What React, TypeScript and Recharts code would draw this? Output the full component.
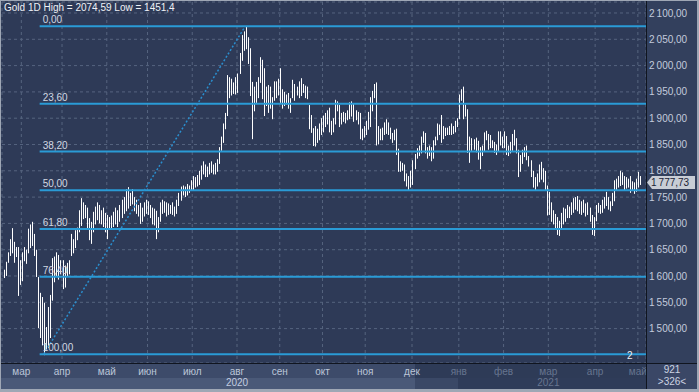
import React from 'react';
import { ComposedChart, Bar, XAxis, YAxis, CartesianGrid, ReferenceLine } from 'recharts';

// daily bars, index 0 = 18 Feb 2020 ... last = 4 May 2021
const highs = [
  1612, 1627, 1645, 1670, 1691, 1665, 1655, 1655, 1630,
  // мар
  1645, 1655, 1650, 1690, 1698, 1703, 1680, 1650, 1598, 1568, 1560, 1549, 1503, 1541, 1564, 1634, 1637, 1645, 1640, 1630,
  // апр
  1630, 1620, 1625, 1630, 1680, 1670, 1687, 1692, 1725, 1748, 1740, 1735, 1730, 1710, 1703, 1722, 1732, 1740, 1735, 1725, 1730, 1720,
  // май
  1716, 1712, 1715, 1722, 1730, 1725, 1735, 1745, 1750, 1765, 1769, 1758, 1765, 1750, 1745, 1735, 1739, 1730, 1740, 1745,
  // июн
  1742, 1735, 1730, 1728, 1724, 1712, 1740, 1745, 1742, 1740, 1738, 1735, 1740, 1732, 1745, 1758, 1770, 1772, 1770, 1775, 1772, 1782,
  // июл
  1790, 1788, 1792, 1800, 1810, 1818, 1812, 1808, 1815, 1818, 1812, 1815, 1822, 1845, 1865, 1890, 1910, 1982, 1978, 1975, 1968, 1978,
  // авг
  1985, 2024, 2058, 2065, 2074.59, 2054, 2033, 1969, 1960, 1969, 1978, 2016, 2011, 1995, 1960, 1963, 1960, 1940, 1970, 1970, 1975,
  // сен
  1995, 1955, 1950, 1945, 1948, 1938, 1973, 1965, 1960, 1970, 1976, 1965, 1962, 1960, 1925, 1906, 1881, 1885, 1880, 1890, 1900,
  // окт
  1905, 1910, 1915, 1920, 1895, 1900, 1935, 1932, 1925, 1910, 1912, 1910, 1915, 1930, 1932, 1928, 1915, 1912, 1910, 1880, 1885,
  // ноя
  1895, 1912, 1940, 1952, 1965, 1968, 1885, 1880, 1882, 1892, 1898, 1892, 1882, 1872, 1878, 1880, 1842, 1818, 1815, 1812, 1795, 1790, 1800,
  // дек
  1820, 1832, 1843, 1848, 1865, 1875, 1872, 1845, 1848, 1845, 1858, 1865, 1890, 1888, 1906, 1885, 1882, 1882, 1885, 1890, 1885, 1895, 1900,
  // янв 2021
  1945, 1955, 1960, 1926, 1917, 1865, 1862, 1860, 1863, 1857, 1845, 1848, 1873, 1876, 1870, 1868, 1858, 1855, 1850, 1875, 1875, 1865,
  // фев
  1875, 1866, 1848, 1855, 1870, 1878, 1862, 1840, 1830, 1840, 1845, 1848, 1828, 1820, 1800, 1788, 1795, 1812, 1817, 1805, 1800, 1772,
  // мар
  1760, 1740, 1725, 1718, 1712, 1705, 1720, 1730, 1728, 1735, 1732, 1740, 1748, 1750, 1752, 1745, 1742, 1745, 1738, 1740, 1730, 1716, 1712,
  // апр
  1735, 1739, 1735, 1745, 1750, 1760, 1750, 1742, 1758, 1782, 1785, 1790, 1800, 1797, 1790, 1788, 1785, 1790, 1780, 1778, 1785,
  // май
  1798, 1790,
];

const lows = [
  1598, 1602, 1627, 1640, 1645, 1627, 1638, 1564, 1585,
  1592, 1630, 1625, 1645, 1655, 1659, 1640, 1600, 1503, 1484, 1470, 1451.4, 1460, 1465, 1484, 1555, 1590, 1600, 1595, 1605,
  1577, 1580, 1600, 1605, 1640, 1645, 1655, 1670, 1685, 1697, 1710, 1712, 1690, 1670, 1663, 1685, 1700, 1708, 1702, 1700, 1695, 1685,
  1672, 1690, 1692, 1695, 1700, 1695, 1705, 1712, 1720, 1725, 1730, 1735, 1738, 1725, 1720, 1715, 1701, 1705, 1715, 1720,
  1718, 1712, 1700, 1698, 1672, 1685, 1705, 1720, 1722, 1715, 1718, 1720, 1718, 1715, 1720, 1735, 1745, 1755, 1752, 1755, 1760, 1765,
  1765, 1770, 1772, 1775, 1785, 1795, 1790, 1790, 1795, 1798, 1795, 1795, 1800, 1815, 1840, 1855, 1881, 1906, 1940, 1945, 1948, 1947,
  1950, 1986, 2011, 2030, 2033, 2005, 1944, 1862, 1915, 1931, 1940, 1969, 1938, 1906, 1925, 1912, 1920, 1900, 1935, 1940, 1945,
  1931, 1920, 1925, 1928, 1920, 1912, 1940, 1935, 1945, 1940, 1944, 1950, 1940, 1938, 1881, 1874, 1849, 1848, 1855, 1860, 1870,
  1875, 1885, 1890, 1875, 1870, 1875, 1890, 1915, 1885, 1890, 1895, 1892, 1898, 1900, 1905, 1895, 1898, 1890, 1862, 1860, 1865,
  1870, 1880, 1885, 1915, 1940, 1850, 1852, 1860, 1860, 1870, 1872, 1870, 1862, 1855, 1860, 1832, 1800, 1800, 1802, 1782, 1772, 1764, 1770,
  1775, 1805, 1825, 1830, 1835, 1855, 1835, 1825, 1830, 1820, 1825, 1850, 1860, 1870, 1855, 1862, 1868, 1870, 1870, 1870, 1872, 1875, 1885,
  1900, 1935, 1900, 1905, 1836, 1817, 1840, 1842, 1837, 1823, 1805, 1830, 1838, 1860, 1842, 1845, 1845, 1836, 1832, 1838, 1850, 1845,
  1845, 1832, 1830, 1835, 1840, 1850, 1835, 1790, 1800, 1815, 1828, 1822, 1810, 1790, 1770, 1765, 1772, 1780, 1785, 1780, 1765, 1717,
  1718, 1705, 1700, 1690, 1680, 1678, 1690, 1700, 1705, 1712, 1712, 1718, 1722, 1728, 1725, 1720, 1718, 1722, 1715, 1718, 1705, 1680, 1678,
  1706, 1722, 1720, 1722, 1730, 1735, 1728, 1725, 1735, 1744, 1765, 1770, 1773, 1775, 1765, 1768, 1770, 1760, 1765, 1758, 1762,
  1770, 1775,
];

const monthTicks = [9, 29, 51, 71, 93, 115, 136, 157, 178, 201, 224, 246, 268, 291, 312];
const monthLabels = ['мар', 'апр', 'май', 'июн', 'июл', 'авг', 'сен', 'окт', 'ноя', 'дек', 'янв', 'фев', 'мар', 'апр', 'май'];
const yearTicks = [115, 268];
const yearLabels = ['2020', '2021'];
const priceTicks = [1500, 1550, 1600, 1650, 1700, 1750, 1800, 1850, 1900, 1950, 2000, 2050, 2100];

const fibLevels = [0, 23.6, 38.2, 50, 61.8, 76.4, 100];
const fibLabels = ['0,00', '23,60', '38,20', '50,00', '61,80', '76,40', '100,00'];
const swingHigh = 2074.59;
const swingLow = 1451.4;
const swingLowIdx = 20;
const swingHighIdx = 119;
const fibStartIdx = 18;
const lastPrice = 1777.73;

const W = 699;
const H = 392;
const FONT = "'Liberation Sans', Arial, sans-serif";

const data = highs.map((h, i) => ({ i, range: [lows[i], h] }));

function fmtPrice(v: number) {
  const s = v.toFixed(2).replace('.', ',');
  return s.length > 6 ? s.slice(0, s.length - 6) + '\u2009' + s.slice(-6) : s;
}

function OhlcShape(props: any) {
  const { x, y, width, height } = props;
  if (x == null || y == null) return null;
  const cx = Math.round(x + width / 2) + 0.5;
  const top = Math.min(y, y + height);
  const bot = Math.max(y, y + height);
  return <line x1={cx} x2={cx} y1={top} y2={bot + 1} stroke="#ffffff" strokeWidth={1} />;
}

function MonthTick(props: any) {
  const { x, y, payload } = props;
  const k = monthTicks.indexOf(payload.value);
  const dim = payload.value >= 224;
  const yk = yearTicks.indexOf(payload.value);
  return (
    <g>
      <text x={x} y={y + 12} textAnchor="middle" fontSize={10} fill={dim ? '#67758f' : '#bcc6d8'}>
        {monthLabels[k]}
      </text>
      {yk >= 0 && (
        <text x={x} y={y + 23} textAnchor="middle" fontSize={10} fill={dim ? '#67758f' : '#c4cde0'}>
          {yearLabels[yk]}
        </text>
      )}
    </g>
  );
}

function PriceTag(props: any) {
  const vb = props.viewBox;
  if (!vb) return null;
  const x = vb.x + vb.width;
  const y = vb.y;
  return (
    <g>
      <polygon
        points={`${x + 1},${y} ${x + 6},${y - 6.5} ${x + 49},${y - 6.5} ${x + 49},${y + 6.5} ${x + 6},${y + 6.5}`}
        fill="#c8cdd5"
      />
      <text x={x + 5} y={y + 3.5} fontSize={10} fill="#1b2335">{fmtPrice(lastPrice)}</text>
    </g>
  );
}

export default function App() {
  return (
    <div style={{ position: 'relative', width: W, height: H, background: '#9fa7b5', fontFamily: FONT, overflow: 'hidden' }}>
      <style>{'body{margin:0}'}</style>
      {/* panel backgrounds */}
      <div style={{ position: 'absolute', left: 1, top: 1, width: 645, height: 362, background: '#2e3a57' }} />
      <div style={{ position: 'absolute', left: 647, top: 1, width: 50, height: 362, background: '#33405d' }} />
      <div style={{ position: 'absolute', left: 1, top: 364, width: 414, height: 14, background: '#3d4b6a' }} />
      <div style={{ position: 'absolute', left: 415, top: 364, width: 231, height: 14, background: '#2e3b57' }} />
      <div style={{ position: 'absolute', left: 1, top: 378, width: 414, height: 11, background: '#4a5978' }} />
      <div style={{ position: 'absolute', left: 415, top: 378, width: 43, height: 11, background: '#3a4866' }} />
      <div style={{ position: 'absolute', left: 458, top: 378, width: 188, height: 11, background: '#2f3c59' }} />

      <div style={{ position: 'absolute', left: 0, top: 0 }}>
        <ComposedChart width={W} height={H} data={data} margin={{ top: 2, right: 0, bottom: 0, left: 2 }}>
          <CartesianGrid stroke="#56647f" strokeDasharray="3 3" />
          <XAxis
            dataKey="i"
            type="number"
            domain={[-0.5, 316]}
            allowDataOverflow
            ticks={monthTicks}
            interval={0}
            height={29}
            axisLine={false}
            tickLine={false}
            tickSize={0}
            tickMargin={0}
            tick={<MonthTick />}
          />
          <YAxis
            orientation="right"
            width={53}
            type="number"
            domain={[1434.6, 2120.9]}
            allowDataOverflow
            ticks={priceTicks}
            interval={0}
            axisLine={false}
            tickLine={false}
            tickSize={0}
            tickMargin={3}
            tickFormatter={fmtPrice}
            tick={{ fill: '#c3cbdc', fontSize: 10 }}
          />
          {fibLevels.map((p, k) => {
            const v = swingHigh - (p / 100) * (swingHigh - swingLow);
            return (
              <ReferenceLine
                key={p}
                segment={[{ x: fibStartIdx, y: v }, { x: 316, y: v }]}
                stroke="#2a9bd6"
                strokeWidth={2}
                ifOverflow="visible"
                label={{ value: fibLabels[k], position: 'insideBottomLeft', offset: 3, fill: '#d2d8e2', fontSize: 10 }}
              />
            );
          })}
          <ReferenceLine
            segment={[{ x: swingLowIdx, y: swingLow }, { x: swingHighIdx, y: swingHigh }]}
            stroke="#2a8fcf"
            strokeWidth={1.5}
            strokeDasharray="2 2"
            ifOverflow="visible"
          />
          <Bar dataKey="range" barSize={1} shape={<OhlcShape />} isAnimationActive={false} />
          <ReferenceLine y={lastPrice} stroke="none" ifOverflow="visible" label={<PriceTag />} />
        </ComposedChart>
      </div>

      {/* separators and overlays */}
      <div style={{ position: 'absolute', left: 1, top: 363, width: 696, height: 1, background: '#10151f' }} />
      <div style={{ position: 'absolute', left: 646, top: 1, width: 1, height: 388, background: '#10151f' }} />
      <div style={{ position: 'absolute', left: 647, top: 364, width: 50, height: 25, background: '#3a4766', color: '#cdd4e2', fontSize: 10, textAlign: 'center', lineHeight: '12px' }}>
        <div>921</div>
        <div>&gt;326&lt;</div>
      </div>
      <div style={{ position: 'absolute', left: 4, top: 2, color: '#eef1f6', fontSize: 10, lineHeight: '12px', whiteSpace: 'nowrap' }}>
        Gold 1D High = 2074,59 Low = 1451,4
      </div>
      <div style={{ position: 'absolute', left: 627, top: 351, color: '#eef1f6', fontSize: 10, lineHeight: '10px' }}>2</div>
    </div>
  );
}
